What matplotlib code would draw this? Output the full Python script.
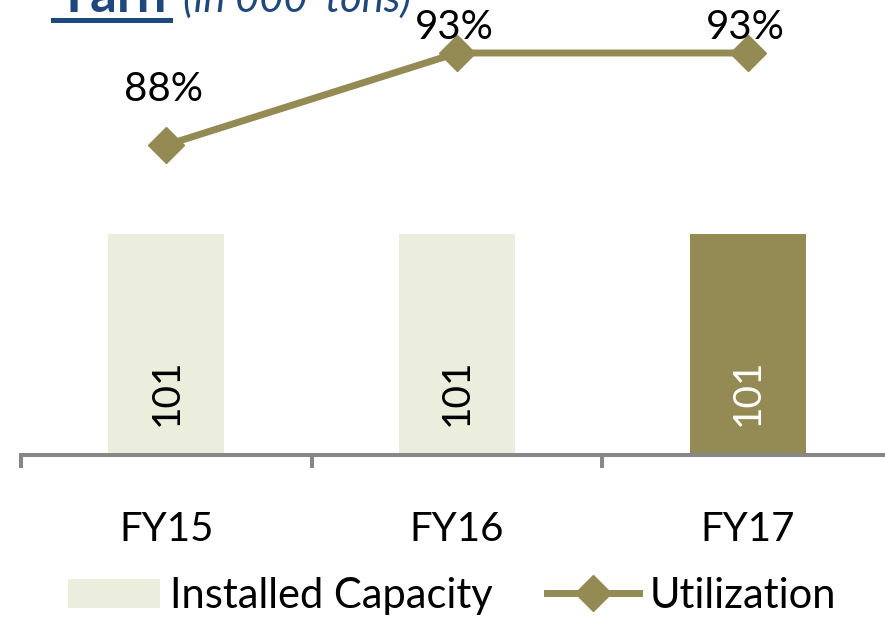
import matplotlib
matplotlib.use("Agg")
import matplotlib.pyplot as plt
from matplotlib.lines import Line2D
from matplotlib.patches import Patch

# data
years = ["FY15", "FY16", "FY17"]
capacity = [101, 101, 101]
utilization = [88, 93, 93]

light = "#EBEEDD"
olive = "#948A54"
navy = "#1F497D"
grey = "#878787"

plt.rcParams['font.family'] = ['Lato', 'DejaVu Sans']

W, H = 885, 618
fig = plt.figure(figsize=(W / 100, H / 100), dpi=100)

# axes placed in pixel terms: left edge 21px, baseline at 455px from top
base_px = 455
ax = fig.add_axes([21 / W, (H - base_px) / H, 872 / W, base_px / H])

x = list(range(len(years)))
bar_colors = [light, light, olive]
ax.bar(x, capacity, width=0.4, color=bar_colors, zorder=2)
ax.set_xlim(-0.5, 2.5)
# bar top sits at 234px
ax.set_ylim(0, capacity[0] * base_px / (base_px - 234))

for xi, v, c in zip(x, capacity, bar_colors):
    ax.annotate(str(v), (xi, 0), xytext=(0, 21), textcoords="offset points",
                rotation=90, ha="center", va="bottom", fontsize=28,
                color="white" if c == olive else "black")

for s in ["top", "right", "left"]:
    ax.spines[s].set_visible(False)
ax.spines["bottom"].set_color(grey)
ax.spines["bottom"].set_linewidth(2.9)
ax.set_yticks([])
ax.set_xticks(x)
ax.set_xticklabels(years, fontsize=29)
ax.tick_params(axis="x", which="major", length=0, pad=40)
ax.set_xticks([-0.5, 0.5, 1.5, 2.5], minor=True)
ax.tick_params(axis="x", which="minor", length=9.5, width=2.9, color=grey)

# utilization on a secondary scale (88% at 145px, 93% at 53px)
ax2 = ax.twinx()
f88 = (base_px - 145) / base_px
f93 = (base_px - 53) / base_px
rng = 5 / (f93 - f88)
lo = 88 - f88 * rng
ax2.set_ylim(lo, lo + rng)
ax2.axis("off")
ax2.plot(x, utilization, color=olive, lw=5, marker="D", markersize=18,
         zorder=3, clip_on=False)

label_offsets = [40, 18, 18]
for xi, v, off in zip(x, utilization, label_offsets):
    ax2.annotate(f"{v}%", (xi, v), xytext=(-2, off), textcoords="offset points",
                 ha="center", va="center", fontsize=29)

# title (partly cut off at the top of the picture)
fig.text(56 / W, 1 - 12 / H, "Yarn", fontsize=38, fontweight="bold",
         color=navy, va="baseline", ha="left")
fig.text(183 / W, 1 - 12 / H, "(in 000' tons)", fontsize=30, style="italic",
         color=navy, va="baseline", ha="left")
fig.add_artist(Line2D([53 / W, 170 / W], [1 - 19.5 / H, 1 - 19.5 / H],
                      color=navy, lw=3.6, transform=fig.transFigure))

handles = [Patch(facecolor=light, edgecolor="none"),
           Line2D([], [], color=olive, lw=5, marker="D", markersize=18)]
fig.legend(handles, ["Installed Capacity", "Utilization"], loc="center",
           bbox_to_anchor=(452 / W, 1 - 596 / H), ncol=2, frameon=False,
           fontsize=30, handlelength=2.2, handleheight=0.7,
           handletextpad=0.25, columnspacing=1.3, borderpad=0)

fig.savefig("out.png", dpi=100)
